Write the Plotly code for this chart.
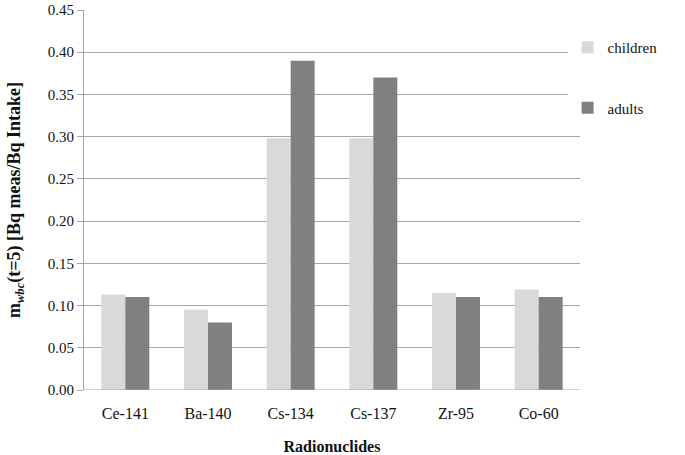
import plotly.graph_objects as go

categories = ["Ce-141", "Ba-140", "Cs-134", "Cs-137", "Zr-95", "Co-60"]
children = [0.113, 0.095, 0.298, 0.298, 0.115, 0.119]
adults = [0.110, 0.080, 0.390, 0.370, 0.110, 0.110]
y_ticks = [0.00, 0.05, 0.10, 0.15, 0.20, 0.25, 0.30, 0.35, 0.40, 0.45]

serif = "Liberation Serif"

fig = go.Figure()
fig.add_trace(go.Bar(x=categories, y=children, name="children", legendgroup="c",
                     marker=dict(color="#d9d9d9", line=dict(width=0))))
fig.add_trace(go.Bar(x=categories, y=adults, name="adults", legendgroup="a",
                     marker=dict(color="#808080", line=dict(width=0))))

fig.update_layout(
    width=685, height=455, autosize=False,
    margin=dict(l=84, r=105, t=10, b=65, autoexpand=False),
    paper_bgcolor="white", plot_bgcolor="white",
    barmode="group", bargap=0.42, bargroupgap=0,
    font=dict(family=serif, size=15, color="#111"),
    legend=dict(x=0.975, xanchor="left", y=0.945, yanchor="top",
                bgcolor="white", font=dict(family=serif, size=15, color="#111"),
                tracegroupgap=38, itemwidth=30),
    xaxis=dict(showline=False, ticks="", tickfont=dict(size=16), automargin=False,
               ticklabelstandoff=12,
               title=dict(text="<b>Radionuclides</b>", font=dict(size=16), standoff=20)),
    yaxis=dict(range=[0, 0.45], tickvals=y_ticks, tickformat=".2f", automargin=False,
               showgrid=True, gridcolor="#a6a6a6", gridwidth=1,
               showline=True, linecolor="#a6a6a6", ticks="outside", ticklen=6,
               tickcolor="#a6a6a6", tickfont=dict(size=15), zeroline=False,
               title=dict(text="<b>m<sub><i>wbc</i></sub>(t=5) [Bq meas/Bq Intake]</b>",
                          font=dict(size=18), standoff=22)),
)
fig.add_shape(type="line", xref="paper", yref="y", x0=0, x1=1, y0=0, y1=0,
              line=dict(color="#a6a6a6", width=1))

fig.write_html("out.html", config={"displayModeBar": False},
               post_script="document.body.style.margin='0';document.body.style.padding='0';")
